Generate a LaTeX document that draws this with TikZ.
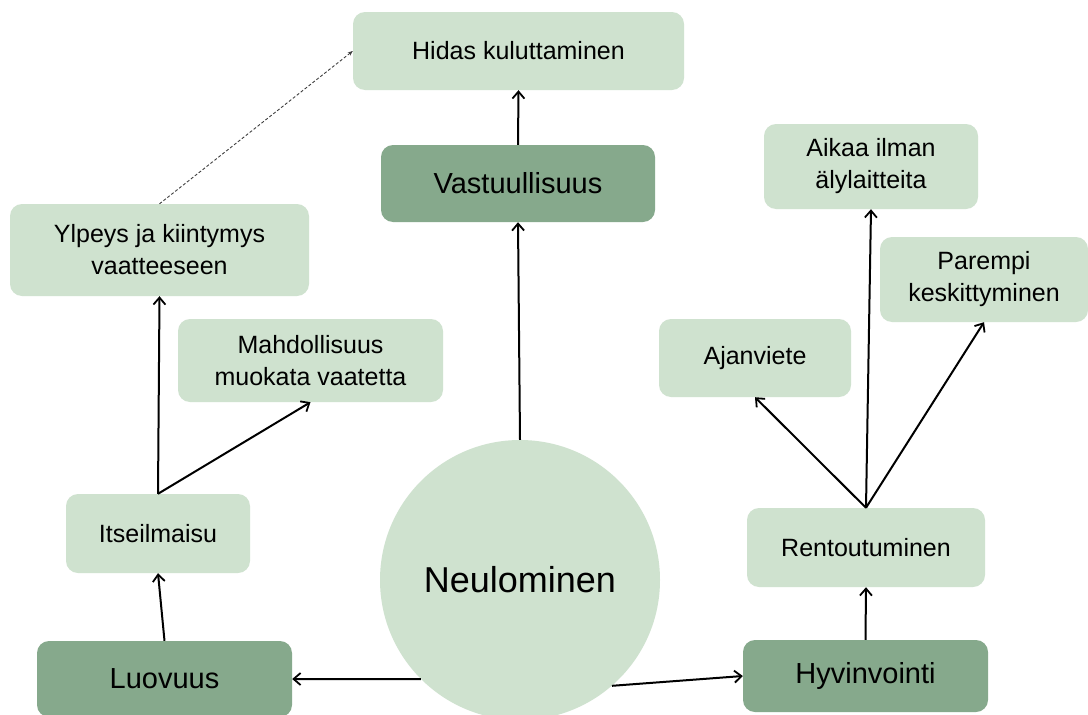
\documentclass[tikz,border=0pt]{standalone}
\usepackage{fontspec}
\setmainfont{Liberation Sans}
\usetikzlibrary{arrows.meta}
\definecolor{lightg}{HTML}{CFE2CF}
\definecolor{darkg}{HTML}{86A98C}
\begin{document}
\begin{tikzpicture}[x=1pt,y=-1pt,
  box/.style={fill=lightg, rounded corners=12pt, inner sep=0pt, align=center,
    font=\fontsize{25}{32}\selectfont},
  dbox/.style={fill=darkg, rounded corners=12pt, inner sep=0pt, align=center,
    font=\fontsize{29}{32}\selectfont},
  arr/.style={line width=2pt, -{Straight Barb[length=7pt,width=12pt,line width=1.8pt]}},
  darr/.style={line width=0.9pt, dash pattern=on 3pt off 2pt, black!75,
    -{Stealth[length=5pt,width=4pt]}}]
\useasboundingbox (0,0) rectangle (1088,715);
\clip (0,0) rectangle (1088,715);
\fill[white] (0,0) rectangle (1088,715);

\node[box, minimum width=331pt, minimum height=78pt] (hidas) at (518.5,51) {Hidas kuluttaminen};
\node[dbox, minimum width=274pt, minimum height=77pt] (vast) at (518,183.5) {Vastuullisuus};
\node[box, minimum width=299pt, minimum height=92pt] (ylp) at (159.5,250) {Ylpeys ja kiintymys\\vaatteeseen};
\node[box, minimum width=265pt, minimum height=83pt] (mahd) at (310.5,360.5) {Mahdollisuus\\muokata vaatetta};
\node[box, minimum width=214pt, minimum height=85pt] (aikaa) at (871,166.5) {Aikaa ilman\\älylaitteita};
\node[box, minimum width=208pt, minimum height=85pt] (parempi) at (984,279.5) {Parempi\\keskittyminen};
\node[box, minimum width=192pt, minimum height=78pt] (ajan) at (755,358) {Ajanviete};
\node[box, minimum width=184pt, minimum height=79pt] (itse) at (158,533.5) {Itseilmaisu};
\node[box, minimum width=238pt, minimum height=79pt] (rent) at (866,547.5) {Rentoutuminen};
\node[dbox, minimum width=255pt, minimum height=76pt] (luov) at (164.5,679) {Luovuus};
\node[dbox, minimum width=245pt, minimum height=72pt] (hyv) at (865.5,676) {Hyvinvointi};
\node[circle, fill=lightg, minimum size=280pt, inner sep=0pt,
  font=\fontsize{36}{40}\selectfont] (circ) at (520,580) {Neulominen};

\draw[arr] (circ.north) -- (vast.south);
\draw[arr] (vast.north) -- (hidas.south);
\draw[arr] (circ.225) -- (luov.east);
\draw[arr] (circ.-49) -- (hyv.west);
\draw[arr] (luov.north) -- (itse.south);
\draw[arr] (itse.north) -- (ylp.south);
\draw[arr] (itse.north) -- (mahd.south);
\draw[arr] (hyv.north) -- (rent.south);
\draw[arr] (rent.north) -- (ajan.south);
\draw[arr] (rent.north) -- (aikaa.south);
\draw[arr] (rent.north) -- (parempi.south);
\draw[darr] (ylp.north) -- (hidas.west);
\end{tikzpicture}
\end{document}
